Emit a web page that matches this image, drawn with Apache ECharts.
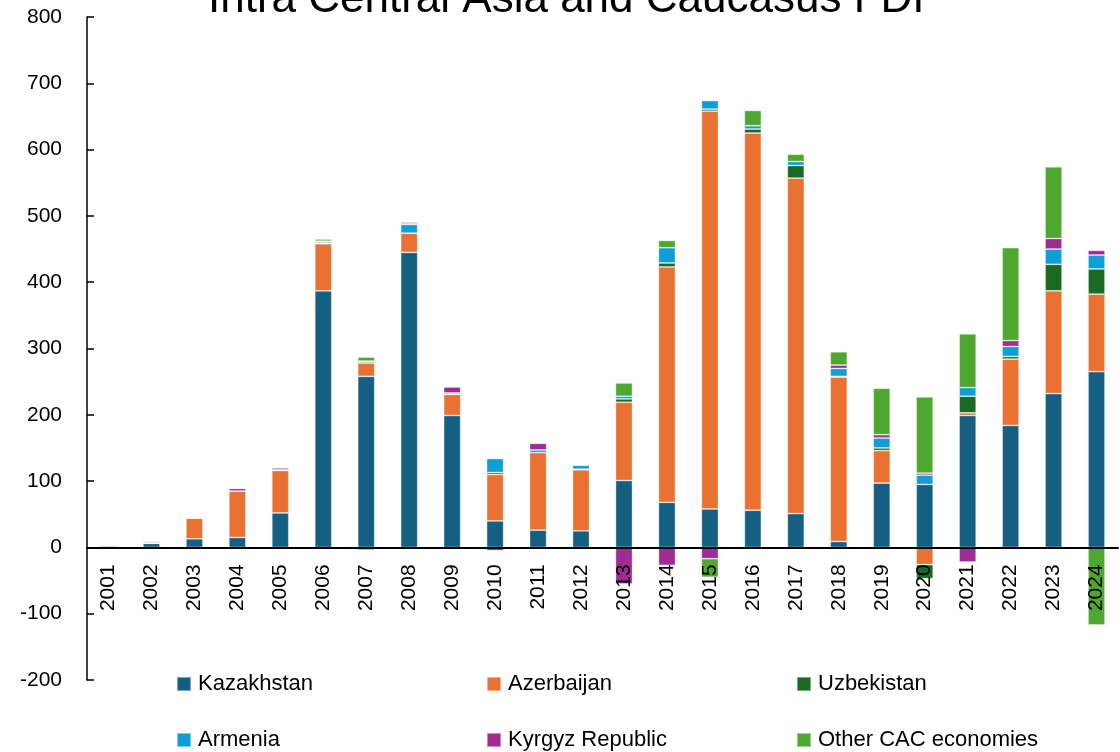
<!DOCTYPE html>
<html>
<head>
<meta charset="utf-8">
<title>Intra Central Asia and Caucasus FDI</title>
<script src="https://cdn.jsdelivr.net/npm/echarts@6/dist/echarts.min.js"></script>
<style>
    html, body { margin: 0; padding: 0; background: #fff; }
    #chart { width: 1120px; height: 752px; }
</style>
</head>
<body>
<div id="chart"></div>
<script>
const years = ['2001', '2002', '2003', '2004', '2005', '2006', '2007', '2008', '2009', '2010', '2011', '2012',
    '2013', '2014', '2015', '2016', '2017', '2018', '2019', '2020', '2021', '2022', '2023', '2024']

const kazakhstan = [0, 6, 13, 15, 52, 387, 258, 445, 199, 40, 26, 25, 101, 68, 58, 56, 51, 9, 97, 95, 199, 184, 232, 265]
const azerbaijan = [0, 0, 31, 70, 64, 71, 20, 29, 32, 70, 117, 92, 118, 355, 600, 569, 506, 248, 49, -26, 4, 100, 155, 117]
const uzbekistan = [0, 1, 0, 0, 0, 1, 2, 0, 0, 3, 0, 1, 5, 6, 3, 6, 19, 1, 4, -21, 25, 4, 40, 38]
const armenia = [0, 0, 1, 0, 1, 2, -4, 13, 2, 21, 4, 6, 4, 23, 13, 5, 6, 12, 15, 14, 13, 15, 23, 21]
const kyrgyz = [0, 0, 1, 4, 3, 1, 1, 2, 9, -5, 10, 0, -55, -27, -17, -2, 0, 5, 5, 3, -22, 9, 16, 7]
const otherCAC = [2, 2, 0, 1, 0, 3, 6, 2, 1, 0, 1, -2, 20, 11, -28, 23, 11, 20, 70, 115, 81, 140, 108, -117]

const yTicks = { min: -200, max: 800, step: 100 }

const font = 'Liberation Sans, Arial, sans-serif'

// grid geometry, the category axis sits on the zero line
const gridTop = 17
const gridBottom = 72
const plotHeight = 752 - gridTop - gridBottom
const zeroOffset = -plotHeight * (0 - yTicks.min) / (yTicks.max - yTicks.min)

// name, data, colour
const seriesDefs = [
    ['Kazakhstan', kazakhstan, '#156082'],
    ['Azerbaijan', azerbaijan, '#E97132'],
    ['Uzbekistan', uzbekistan, '#196B24'],
    ['Armenia', armenia, '#0F9ED5'],
    ['Kyrgyz Republic', kyrgyz, '#A02B93'],
    ['Other CAC economies', otherCAC, '#4EA72E']
]

// legend is a 3 x 2 grid, one legend per cell
const legendPos = [
    [176, 673], [486, 673], [796, 673],
    [176, 729], [486, 729], [796, 729]
]

let option = {
    animation: false,
    title: {
        text: 'Intra Central Asia and Caucasus FDI',
        left: 203,
        top: -27,
        textStyle: {
            fontFamily: font,
            fontSize: 44,
            fontWeight: 'normal',
            color: '#000'
        }
    },
    legend: seriesDefs.map((d, i) => ({
        data: [d[0]],
        left: legendPos[i][0],
        top: legendPos[i][1],
        padding: 0,
        icon: 'rect',
        itemWidth: 14,
        itemHeight: 14,
        itemGap: 0,
        textStyle: {
            fontFamily: font,
            fontSize: 22,
            lineHeight: 22,
            color: '#000',
            padding: [0, 0, 0, 2]
        }
    })),
    grid: {
        left: 87,
        right: 2,
        top: gridTop,
        bottom: gridBottom
    },
    xAxis: {
        type: 'category',
        data: years,
        z: 10,
        offset: zeroOffset,
        axisLine: {
            onZero: false,
            lineStyle: { color: '#000', width: 2 }
        },
        axisTick: {
            inside: true,
            length: 7,
            lineStyle: { color: '#000', width: 1.5 }
        },
        axisLabel: {
            rotate: 90,
            margin: 17,
            fontFamily: font,
            fontSize: 21,
            color: '#000'
        }
    },
    yAxis: {
        type: 'value',
        min: yTicks.min,
        max: yTicks.max,
        interval: yTicks.step,
        splitLine: { show: false },
        axisLine: {
            show: true,
            lineStyle: { color: '#000', width: 1.5 }
        },
        axisTick: {
            show: true,
            inside: true,
            length: 7,
            lineStyle: { color: '#000', width: 1.5 }
        },
        axisLabel: {
            margin: 25,
            fontFamily: font,
            fontSize: 21,
            color: '#000'
        }
    },
    series: seriesDefs.map(d => ({
        name: d[0],
        type: 'bar',
        stack: 'FDI',
        barWidth: 17,
        data: d[1],
        itemStyle: {
            color: d[2],
            borderColor: 'rgba(255,255,255,0.45)',
            borderWidth: 0.8
        }
    }))
}

const chart = echarts.init(document.getElementById('chart'))
chart.setOption(option)
</script>
</body>
</html>
